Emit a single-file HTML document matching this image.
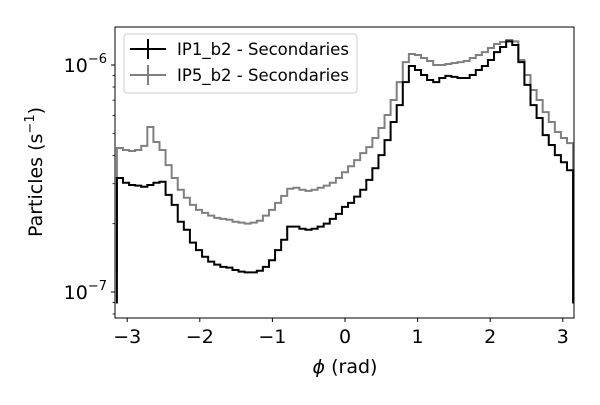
<!DOCTYPE html>
<html><head><meta charset="utf-8"><style>
body{margin:0;background:#fff}
svg text{font-family:"DejaVu Sans","Liberation Sans",sans-serif}
</style></head><body>
<svg width="600" height="400" xmlns="http://www.w3.org/2000/svg">
<g id="plot"></g>
</svg>
<script>
const ip1Values=[3.18,3.03,2.96,2.94,2.91,2.96,3.03,3.06,2.68,2.42,2.04,1.88,1.65,1.53,1.43,1.36,1.32,1.29,1.28,1.25,1.23,1.22,1.22,1.24,1.29,1.38,1.53,1.70,1.94,1.94,1.90,1.88,1.90,1.94,2.00,2.10,2.21,2.37,2.47,2.63,2.82,3.12,3.51,4.01,4.67,5.61,6.66,8.41,9.9,9.5,9.04,8.59,8.41,8.77,8.95,8.86,8.77,8.77,9.04,9.5,9.9,10.52,11.4,12.0,12.71,12.25,10.3,8.17,6.66,5.84,4.91,4.44,4.01,3.73,3.44];
const ip5Values=[4.31,4.22,4.18,4.22,4.4,5.33,4.58,4.22,3.62,3.18,2.82,2.6,2.42,2.3,2.23,2.17,2.12,2.1,2.08,2.04,2.02,2.0,2.02,2.06,2.17,2.3,2.47,2.65,2.85,2.88,2.82,2.79,2.82,2.88,2.94,3.03,3.18,3.37,3.58,3.81,4.09,4.35,4.77,5.28,6.02,7.01,8.41,10.3,11.18,11.07,10.74,10.41,10,10,10.1,10.2,10.3,10.41,10.74,11.07,11.4,11.88,12.37,12.63,12.88,12.71,10.52,9.04,7.76,7.01,6.2,5.61,5.07,4.77,4.53];
const xTicks=[-3,-2,-1,0,1,2,3];
const xTickLabels=["\u22123","\u22122","\u22121","0","1","2","3"];
const yMajor=[1e-7,1e-6];
const yMinor=[8e-8,9e-8,2e-7,3e-7,4e-7,5e-7,6e-7,7e-7,8e-7,9e-7];
const edgeValue1=0.89e-7, edgeValue5=1.19e-7;

const L=115,R=574,T=27,B=318;
const NS="http://www.w3.org/2000/svg";
const g=document.getElementById('plot');
const xs=v=>345+v*72.6;
const ys=v=>65-(Math.log10(v)+6)*227;
function mk(t,a,p){const e=document.createElementNS(NS,t);for(const k in a)e.setAttribute(k,a[k]);(p||g).appendChild(e);return e;}

function series(vals,edge,color,name){
  const n=vals.length,w=(2*Math.PI)/n;
  let d=`M${xs(-Math.PI)},${ys(edge)}`;
  vals.forEach((v,i)=>{const x0=xs(-Math.PI+i*w),x1=xs(-Math.PI+(i+1)*w),y=ys(v*1e-7);d+=` L${x0},${y} L${x1},${y}`;});
  d+=` L${xs(Math.PI)},${ys(edge)}`;
  const p=mk('path',{d:d,fill:'none',stroke:color,'stroke-width':2,'clip-path':'url(#clip)'});
  
  
}
const defs=mk('defs',{});
const cp=mk('clipPath',{id:'clip'},defs);
mk('rect',{x:L,y:T,width:R-L,height:B-T},cp);
series(ip5Values,edgeValue5,'#808080','ip5-line');
series(ip1Values,edgeValue1,'#000','ip1-line');

const frame=mk('rect',{x:L,y:T,width:R-L,height:B-T,fill:'none',stroke:'#000','stroke-width':1});



xTicks.forEach((t,i)=>{
  const x=xs(t);
  mk('line',{x1:x,x2:x,y1:B,y2:B+4,stroke:'#000'});
  const tx=mk('text',{x:x,y:B+25,'font-size':19,'text-anchor':'middle'});
  tx.textContent=xTickLabels[i];
  
  
});
yMajor.forEach(v=>{
  const y=ys(v);
  mk('line',{x1:L-4,x2:L,y1:y,y2:y,stroke:'#000'});
  const tx=mk('text',{x:L-8,y:y+7,'font-size':19,'text-anchor':'end'});
  tx.innerHTML='10<tspan dy="-9" font-size="13">\u2212'+(-Math.round(Math.log10(v)))+'</tspan>';
  
  
});
yMinor.forEach(v=>{const y=ys(v);mk('line',{x1:L-2.5,x2:L,y1:y,y2:y,stroke:'#000','stroke-width':0.8});});

const xl=mk('text',{x:345,y:373,'font-size':19,'text-anchor':'middle'});
xl.innerHTML='<tspan font-style="italic">\u03d5</tspan> (rad)';


const yl=mk('text',{x:0,y:0,'font-size':19,'text-anchor':'middle',transform:'translate(42,172) rotate(-90)'});
yl.innerHTML='Particles (s<tspan dy="-8" font-size="13">\u22121</tspan><tspan dy="8">)</tspan>';



const lg=mk('g',{});


mk('rect',{x:124,y:34,width:233,height:59,rx:3,fill:'#fff','fill-opacity':0.8,stroke:'#ccc'},lg);
[['IP1_b2 - Secondaries','#000',49],['IP5_b2 - Secondaries','#808080',75]].forEach(([t,c,y])=>{
  mk('line',{x1:130,x2:166,y1:y,y2:y,stroke:c,'stroke-width':2},lg);
  mk('line',{x1:148,x2:148,y1:y-10,y2:y+10,stroke:c,'stroke-width':2},lg);
  const tx=mk('text',{x:177,y:y+6,'font-size':16.5},lg);
  tx.textContent=t;
  
  
});
</script>
</body></html>
